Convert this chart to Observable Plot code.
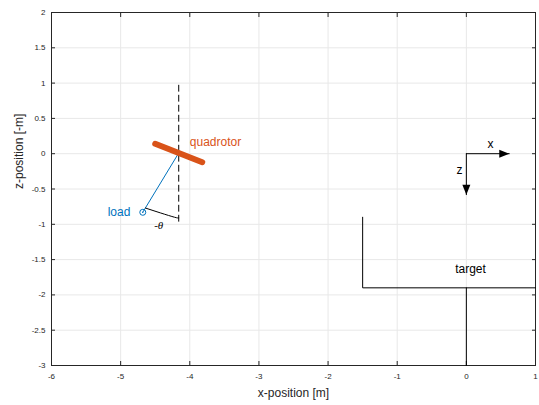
<!DOCTYPE html>
<html>
<head>
<meta charset="utf-8">
<script src="https://cdn.jsdelivr.net/npm/d3@7"></script>
<script src="https://cdn.jsdelivr.net/npm/@observablehq/plot@0.6"></script>
<style>
  html, body { margin: 0; padding: 0; background: #fff; }
  #chart { width: 539px; height: 405px; }
  svg { font-family: "Liberation Sans", Arial, sans-serif; }
</style>
</head>
<body>
<div id="chart"></div>
<script>
// ---- data ----
const xTicks = [-6, -5, -4, -3, -2, -1, 0, 1];
const yTicks = [-3, -2.5, -2, -1.5, -1, -0.5, 0, 0.5, 1, 1.5, 2];
const xTitle = "x-position [m]";
const yTitle = "z-position [-m]";

const quadX = [-4.50, -3.82];
const quadZ = [0.14, -0.12];

const ropeX = [-4.16, -4.68];
const ropeZ = [0.01, -0.83];

const loadX = [-4.68];
const loadZ = [-0.83];

const vertX = [-4.16, -4.16];
const vertZ = [0.97, -0.97];

const arcX = [-4.64, -4.42, -4.22, -4.16];
const arcZ = [-0.77, -0.84, -0.90, -0.91];

const frameOrigin = [0, 0];
const frameXTip = [0.62, 0];
const frameZTip = [0, -0.58];

const targetX = [-1.5, -1.5, 1];
const targetZ = [-0.9, -1.9, -1.9];
const standX = [0, 0];
const standZ = [-1.9, -3];

const startLabels = [{x: -4.0, z: 0.17, text: "quadrotor", color: "#D95319"}];
const endLabels = [{x: -4.86, z: -0.83, text: "load", color: "#0072BD"}];
const midLabels = [
  {x: 0.35, z: 0.14, text: "x", color: "#000"},
  {x: -0.10, z: -0.24, text: "z", color: "#000"},
  {x: 0.06, z: -1.63, text: "target", color: "#000"}
];
const angleLabel = [{x: -4.45, z: -1.02, text: "-θ"}];

// ---- helpers ----
const pts = (xs, zs) => xs.map((x, i) => ({x, z: zs[i]}));
const arrowHead = {
  draw(ctx) {
    ctx.moveTo(0, 0);
    ctx.lineTo(-10, -4);
    ctx.lineTo(-10, 4);
    ctx.closePath();
  }
};
const axisColor = "#262626";

const chart = Plot.plot({
  width: 539,
  height: 405,
  marginLeft: 51,
  marginRight: 4,
  marginTop: 12,
  marginBottom: 40,
  style: {fontFamily: "Liberation Sans, Arial, sans-serif", background: "#fff"},
  x: {domain: [-6, 1]},
  y: {domain: [-3, 2]},
  marks: [
    // grid
    Plot.ruleX(xTicks, {stroke: "#e8e8e8", strokeWidth: 1}),
    Plot.ruleY(yTicks, {stroke: "#e8e8e8", strokeWidth: 1}),
    // axes
    Plot.axisX(xTicks, {anchor: "bottom", tickSize: -4, tickPadding: 12, stroke: axisColor, fill: axisColor, fontSize: 8,
      tickFormat: d => String(d), label: null}),
    Plot.axisX(xTicks, {anchor: "top", tickSize: -4, stroke: axisColor, tickFormat: () => "", label: null}),
    Plot.axisY(yTicks, {anchor: "left", tickSize: -4, tickPadding: 10, stroke: axisColor, fill: axisColor, fontSize: 8,
      tickFormat: d => String(d), label: null}),
    Plot.axisY(yTicks, {anchor: "right", tickSize: -4, stroke: axisColor, tickFormat: () => "", label: null}),
    Plot.frame({stroke: axisColor, strokeWidth: 1}),
    // axis titles
    Plot.text([xTitle], {text: d => d, frameAnchor: "bottom", dy: 31, fontSize: 12, fill: axisColor}),
    Plot.text([yTitle], {text: d => d, frameAnchor: "left", dx: -32, rotate: -90, fontSize: 12, fill: axisColor}),
    // vertical dashed reference
    Plot.line(pts(vertX, vertZ), {x: "x", y: "z", stroke: "#000", strokeWidth: 1, strokeDasharray: "6,4"}),
    // rope
    Plot.line(pts(ropeX, ropeZ), {x: "x", y: "z", stroke: "#0072BD", strokeWidth: 1}),
    // quadrotor body
    Plot.line(pts(quadX, quadZ), {x: "x", y: "z", stroke: "#D95319", strokeWidth: 6}),
    // load
    Plot.dot(pts(loadX, loadZ), {x: "x", y: "z", r: 3, stroke: "#0072BD", strokeWidth: 1, fill: "none"}),
    Plot.dot(pts(loadX, loadZ), {x: "x", y: "z", r: 0.7, fill: "#0072BD"}),
    // angle arc
    Plot.line(pts(arcX, arcZ), {x: "x", y: "z", stroke: "#000", strokeWidth: 1, curve: "natural"}),
    // body frame arrows
    Plot.line(pts([frameOrigin[0], frameXTip[0]], [frameOrigin[1], frameXTip[1]]), {x: "x", y: "z", stroke: "#000", strokeWidth: 1}),
    Plot.line(pts([frameOrigin[0], frameZTip[0]], [frameOrigin[1], frameZTip[1]]), {x: "x", y: "z", stroke: "#000", strokeWidth: 1}),
    Plot.dot(pts([frameXTip[0]], [frameXTip[1]]), {x: "x", y: "z", symbol: arrowHead, fill: "#000", stroke: "none", r: 4}),
    Plot.dot(pts([frameZTip[0]], [frameZTip[1]]), {x: "x", y: "z", symbol: arrowHead, fill: "#000", stroke: "none", r: 4, rotate: 90}),
    // target
    Plot.line(pts(targetX, targetZ), {x: "x", y: "z", stroke: "#000", strokeWidth: 1}),
    Plot.line(pts(standX, standZ), {x: "x", y: "z", stroke: "#000", strokeWidth: 1}),
    // labels
    Plot.text(startLabels, {x: "x", y: "z", text: "text", fill: "color", textAnchor: "start", fontSize: 12}),
    Plot.text(endLabels, {x: "x", y: "z", text: "text", fill: "color", textAnchor: "end", fontSize: 12}),
    Plot.text(midLabels, {x: "x", y: "z", text: "text", fill: "color", textAnchor: "middle", fontSize: 12}),
    Plot.text(angleLabel, {x: "x", y: "z", text: "text", fill: "#000", textAnchor: "middle", fontSize: 11,
      fontStyle: "italic", fontFamily: "Liberation Serif, Times New Roman, serif"})
  ]
});
document.getElementById("chart").appendChild(chart);
</script>
</body>
</html>
